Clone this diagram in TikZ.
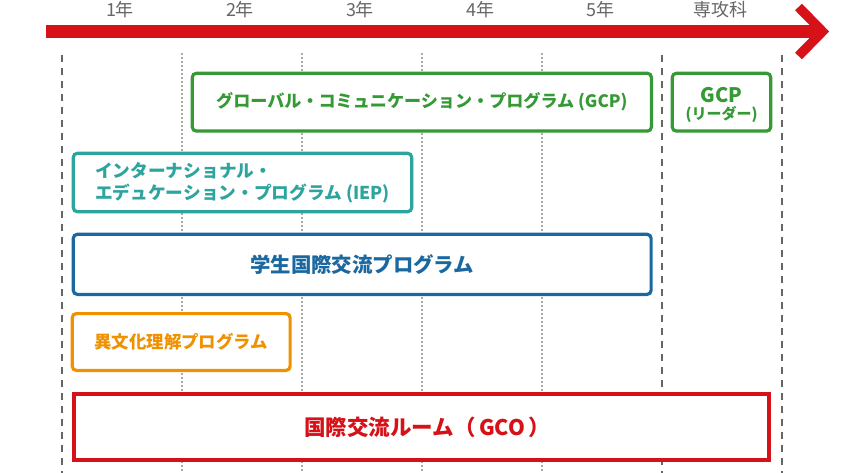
\documentclass[tikz,border=0pt]{standalone}
\usepackage{fontspec}
\newfontfamily\jp{Noto Sans CJK JP}
\definecolor{cred}{RGB}{214,18,24}
\definecolor{cgreen}{RGB}{53,153,53}
\definecolor{cteal}{RGB}{45,164,158}
\definecolor{cblue}{RGB}{27,104,161}
\definecolor{corange}{RGB}{240,145,0}
\definecolor{cgray}{RGB}{102,102,102}
\definecolor{clgray}{RGB}{170,170,170}
\tikzset{
  prog/.style={fill=white, line width=3.2pt, rounded corners=4pt, inner sep=0pt},
  progc/.style={prog, draw=#1, text=#1},
  fs/.style={font=\jp\bfseries\fontsize{#1}{22}\selectfont},
  yearlbl/.style={text=cgray, inner sep=0pt, font=\jp\fontsize{18}{20}\selectfont},
  mainline/.style={cgray, line width=2pt, dash pattern=on 7pt off 6pt},
  subline/.style={clgray, line width=1.5pt, dash pattern=on 2pt off 2pt},
}
\begin{document}
\begin{tikzpicture}[x=1pt,y=-1pt]
\useasboundingbox (0,0) rectangle (846,473);
% timeline arrow
\fill[cred] (46,25) rectangle (821,38);
\draw[cred, line width=9.5pt, line join=miter] (798.5,7) -- (822.5,31.5) -- (798.5,56);
% year labels
\node[yearlbl] (y1) at (120,10) {1年};
\node[yearlbl] (y2) at (240,10) {2年};
\node[yearlbl] (y3) at (360,10) {3年};
\node[yearlbl] (y4) at (480,10) {4年};
\node[yearlbl] (y5) at (600,10) {5年};
\node[yearlbl] (y6) at (720,10) {専攻科};
% grid lines
\foreach \x in {62,662,782} \draw[mainline] (\x,55) -- (\x,473);
\foreach \x in {182,302,422,542} \draw[subline] (\x,53) -- (\x,473);
% programmes
\node[progc=cgreen, fs=17.1, minimum width=459.1pt, minimum height=57.8pt] (gcp) at (421.85,102.2)
  {グローバル・コミュニケーション・プログラム (GCP)};
\node[progc=cgreen, minimum width=98.4pt, minimum height=57.8pt] (gcpl) at (721.5,102.2) {};
\node[text=cgreen, fs=20, inner sep=0pt, align=center, yshift=-2.5pt] (gcpltxt) at (gcpl.center)
  {GCP\\[-5pt]\fontsize{15}{20}\selectfont (リーダー)};
\node[progc=cteal, fs=17.7, minimum width=338.4pt, minimum height=58.4pt, align=left] (iep) at (242.5,182.5)
  {インターナショナル・\\エデュケーション・プログラム (IEP)};
\node[progc=cblue, fs=20.4, minimum width=577.8pt, minimum height=60.1pt] (sie) at (362.2,264.35)
  {学生国際交流プログラム};
\node[progc=corange, fs=17.4, minimum width=217.8pt, minimum height=56.8pt] (icu) at (181.2,342)
  {異文化理解プログラム};
\node[progc=cred, fs=21.5, line width=4pt, rounded corners=0pt, minimum width=695.3pt, minimum height=65.7pt] (gco) at (421.35,427.15)
  {\hspace*{12pt}国際交流ルーム（\,GCO\,）};
\end{tikzpicture}
\end{document}
